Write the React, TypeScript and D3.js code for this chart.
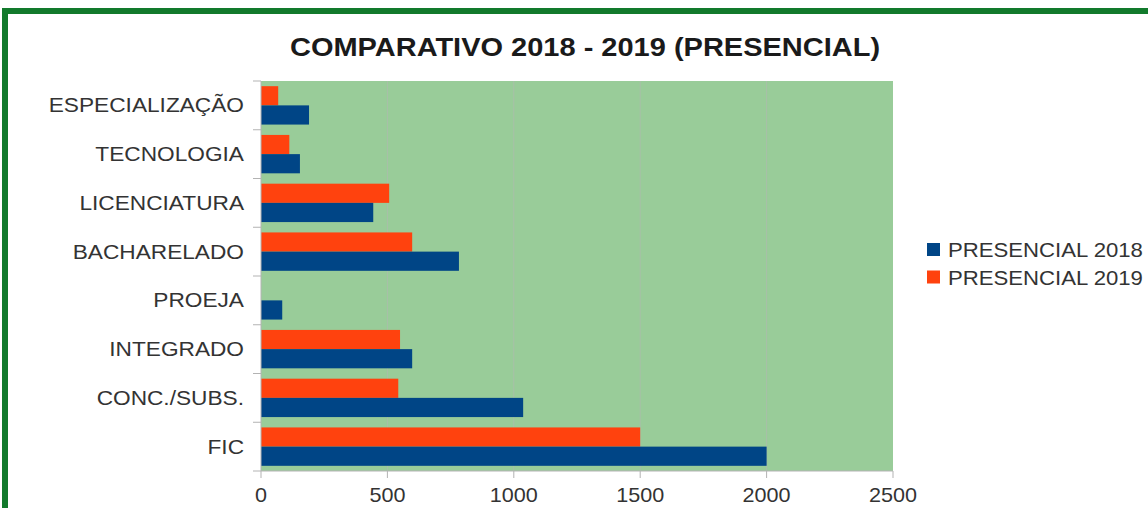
import React from "react";
import * as d3 from "d3";

const categories = [
  "ESPECIALIZAÇÃO",
  "TECNOLOGIA",
  "LICENCIATURA",
  "BACHARELADO",
  "PROEJA",
  "INTEGRADO",
  "CONC./SUBS.",
  "FIC",
];
const presencial2018 = [190, 154, 444, 783, 84, 598, 1037, 2000];
const presencial2019 = [68, 112, 507, 598, 0, 550, 543, 1500];
const xTicks = [0, 500, 1000, 1500, 2000, 2500];
const seriesNames = ["PRESENCIAL 2018", "PRESENCIAL 2019"];
const seriesColors = ["#004586", "#ff420e"];
const title = "COMPARATIVO 2018 - 2019 (PRESENCIAL)";

const font = "'Liberation Sans', Arial, sans-serif";
const txt = "#333333";

function T(props: {
  x: number;
  y: number;
  sx: number;
  size: number;
  anchor?: string;
  bold?: boolean;
  fill?: string;
  children: React.ReactNode;
}) {
  return (
    <text
      transform={`translate(${props.x},${props.y}) scale(${props.sx},1)`}
      textAnchor={props.anchor || "start"}
      fontFamily={font}
      fontSize={props.size}
      fontWeight={props.bold ? "bold" : "normal"}
      fill={props.fill || txt}
    >
      {props.children}
    </text>
  );
}

export default function App() {
  const W = 1148;
  const H = 508;
  const plot = { left: 261, right: 893, top: 81, bottom: 471 };
  const x = d3.scaleLinear().domain([0, 2500]).range([plot.left, plot.right]);
  const y = d3
    .scaleBand<string>()
    .domain(categories)
    .range([plot.top, plot.bottom])
    .paddingInner(0)
    .paddingOuter(0);
  const inner = d3
    .scaleBand<string>()
    .domain(["2019", "2018"])
    .range([0, y.bandwidth()])
    .paddingInner(0)
    .paddingOuter(0.27);

  return (
    <svg
      width={W}
      height={H}
      style={{ position: "absolute", left: 0, top: 0, display: "block" }}
    >
      <rect x={0} y={0} width={W} height={H} fill="#ffffff" />
      <rect x={5} y={11} width={W + 20} height={H + 20} fill="none" stroke="#127a2c" strokeWidth={6} />
      <T x={585} y={56} sx={1.16} size={25} anchor="middle" bold fill="#1a1a1a">
        {title}
      </T>
      <rect
        x={plot.left}
        y={plot.top}
        width={plot.right - plot.left}
        height={plot.bottom - plot.top}
        fill="#99cc99"
      />
      {xTicks.slice(1, -1).map((t) => (
        <line key={"g" + t} x1={x(t)} x2={x(t)} y1={plot.top} y2={plot.bottom} stroke="#a9bfa9" strokeWidth={1} />
      ))}
      {categories.map((c, i) => (
        <g key={c}>
          <rect
            x={x(0)}
            y={(y(c) as number) + (inner("2019") as number)}
            width={x(presencial2019[i]) - x(0)}
            height={inner.bandwidth()}
            fill={seriesColors[1]}
          />
          <rect
            x={x(0)}
            y={(y(c) as number) + (inner("2018") as number)}
            width={x(presencial2018[i]) - x(0)}
            height={inner.bandwidth()}
            fill={seriesColors[0]}
          />
          <T x={244} y={(y(c) as number) + y.bandwidth() / 2 + 7} sx={1.08} size={21} anchor="end">
            {c}
          </T>
        </g>
      ))}
      {d3.range(categories.length + 1).map((i) => {
        const yy = plot.top + i * y.step();
        return <line key={"yt" + i} x1={plot.left - 8} x2={plot.left} y1={yy} y2={yy} stroke="#b3b3b3" />;
      })}
      <line x1={plot.left} x2={plot.left} y1={plot.top} y2={plot.bottom} stroke="#b3b3b3" />
      <line x1={plot.left} x2={plot.right} y1={plot.bottom} y2={plot.bottom} stroke="#b3b3b3" />
      {xTicks.map((t) => (
        <g key={"xt" + t}>
          <line x1={x(t)} x2={x(t)} y1={plot.bottom} y2={plot.bottom + 7} stroke="#b3b3b3" />
          <T x={x(t)} y={502} sx={1.08} size={20} anchor="middle">
            {t}
          </T>
        </g>
      ))}
      {seriesNames.map((s, i) => (
        <g key={s}>
          <rect x={927} y={243 + i * 27.5} width={13} height={13} fill={seriesColors[i]} />
          <T x={948} y={257 + i * 27.5} sx={1.055} size={21}>
            {s}
          </T>
        </g>
      ))}
    </svg>
  );
}
